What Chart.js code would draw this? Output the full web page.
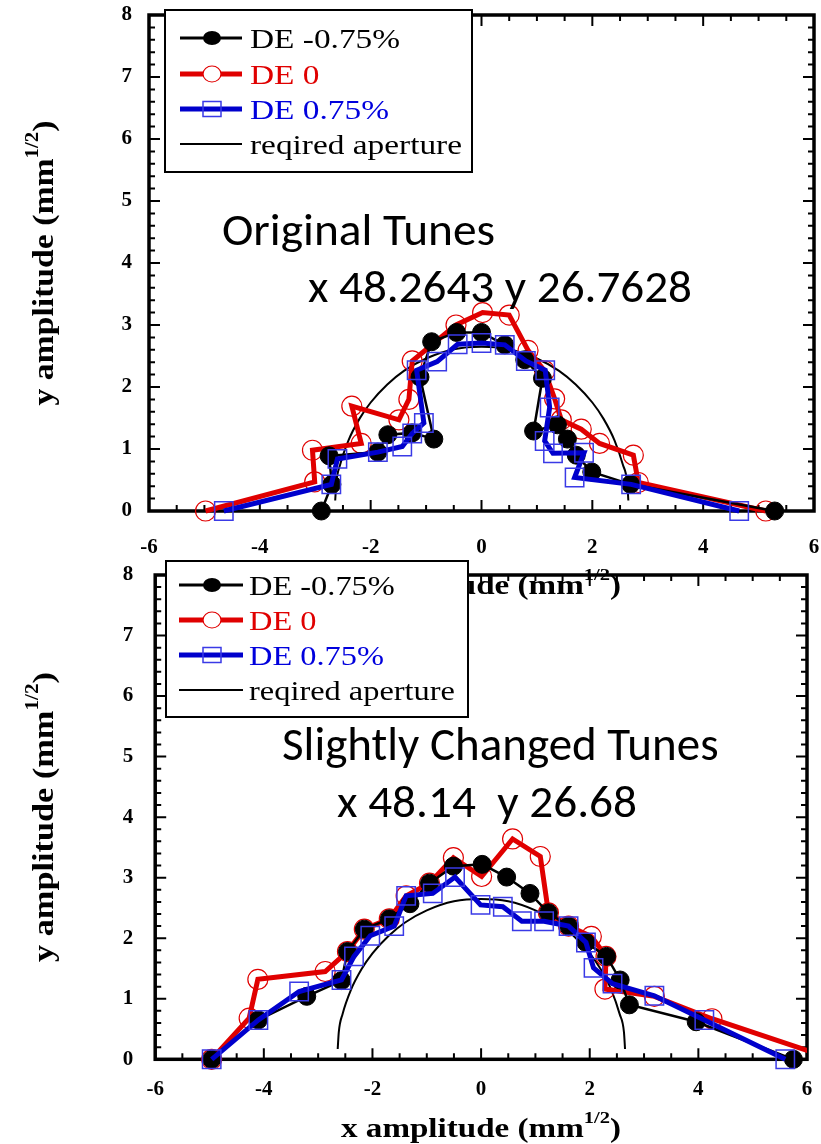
<!DOCTYPE html>
<html><head><meta charset="utf-8">
<script src="https://cdn.jsdelivr.net/npm/chart.js@4.4.0/dist/chart.umd.min.js"></script>
<style>
html,body{margin:0;padding:0;background:#fff;}
body{width:821px;height:1144px;position:relative;overflow:hidden;}
canvas{position:absolute;left:0;}
#c1{top:0}
#c2{top:540px}
</style></head><body>
<canvas id="c1" width="821" height="600"></canvas>
<canvas id="c2" width="821" height="604"></canvas>
<script>
// ---------- DATA ----------
const seriesLabels = ['DE -0.75%', 'DE 0', 'DE 0.75%', 'reqired aperture'];
const xTickValues = [-6, -4, -2, 0, 2, 4, 6];

// Top chart: Original Tunes
const top_neg_x = [-2.89, -2.70, -2.75, -1.87, -1.69, -1.25, -0.86, -1.11, -0.90, -0.45, 0.00, 0.42, 0.78, 1.10, 0.94, 1.37, 1.55, 1.71, 1.99, 2.69, 5.29];
const top_neg_y = [0.00, 0.43, 0.89, 0.95, 1.23, 1.26, 1.16, 2.16, 2.73, 2.88, 2.88, 2.68, 2.44, 2.14, 1.29, 1.39, 1.16, 0.90, 0.63, 0.43, 0.00];
const top_zero_x = [-4.98, -3.01, -3.05, -2.17, -2.34, -1.49, -1.31, -1.25, -0.46, 0.02, 0.50, 0.84, 1.14, 1.32, 1.44, 1.80, 2.13, 2.74, 2.83, 5.13];
const top_zero_y = [0.00, 0.47, 0.98, 1.09, 1.69, 1.47, 1.80, 2.42, 3.00, 3.20, 3.16, 2.59, 2.26, 1.81, 1.47, 1.32, 1.09, 0.90, 0.46, 0.00];
const top_pos_x = [-4.65, -2.71, -2.60, -1.87, -1.43, -1.25, -1.04, -1.17, -0.80, -0.43, 0.00, 0.42, 0.80, 1.15, 1.23, 1.14, 1.29, 1.85, 1.68, 2.70, 4.65];
const top_pos_y = [0.00, 0.43, 0.84, 0.95, 1.04, 1.25, 1.42, 2.27, 2.41, 2.69, 2.71, 2.68, 2.42, 2.27, 1.67, 1.13, 0.93, 0.94, 0.54, 0.43, 0.00];

// Bottom chart: Slightly Changed Tunes
const bot_neg_x = [-4.96, -4.10, -3.21, -2.57, -2.46, -2.15, -1.69, -1.31, -0.95, -0.51, 0.02, 0.47, 0.90, 1.24, 1.61, 1.93, 2.31, 2.56, 2.73, 3.96, 5.75];
const bot_neg_y = [0.00, 0.65, 1.04, 1.30, 1.78, 2.15, 2.32, 2.57, 2.91, 3.19, 3.22, 3.01, 2.74, 2.42, 2.20, 1.93, 1.70, 1.31, 0.90, 0.62, 0.00];
const bot_zero_x = [-4.96, -4.27, -4.11, -2.87, -2.46, -2.15, -1.69, -1.38, -0.95, -0.51, 0.01, 0.58, 1.09, 1.24, 1.61, 2.03, 2.30, 2.28, 3.19, 4.25, 6.50];
const bot_zero_y = [0.00, 0.68, 1.32, 1.45, 1.78, 2.15, 2.32, 2.70, 2.91, 3.33, 3.02, 3.64, 3.35, 2.42, 2.20, 2.03, 1.70, 1.16, 1.04, 0.67, 0.00];
const bot_pos_x = [-4.96, -4.10, -3.35, -2.57, -2.34, -2.04, -1.60, -1.38, -0.89, -0.48, -0.01, 0.40, 0.75, 1.16, 1.61, 1.93, 2.07, 2.42, 3.19, 4.11, 5.60];
const bot_pos_y = [0.00, 0.65, 1.12, 1.31, 1.70, 2.04, 2.20, 2.70, 2.74, 3.01, 2.55, 2.52, 2.28, 2.28, 2.20, 1.93, 1.51, 1.25, 1.05, 0.65, 0.00];

// required aperture curve
const aperture_x = [-2.64, -2.62, -2.55, -2.40, -2.20, -2.00, -1.70, -1.40, -1.00, -0.50, 0.00, 0.50, 1.00, 1.40, 1.70, 2.00, 2.20, 2.40, 2.55, 2.63, 2.65];
const aperture_y = [0.17, 0.45, 0.75, 1.14, 1.49, 1.75, 2.04, 2.26, 2.46, 2.61, 2.65, 2.61, 2.46, 2.26, 2.04, 1.75, 1.49, 1.14, 0.75, 0.45, 0.17];

// ---------- STYLE ----------
const RED = '#e00000', BLUE = '#0000cc', BLUE_MK = '#3a3ae6', BLACK = '#000';
const SERIF = '"Liberation Serif", "Times New Roman", serif';
const SANS = 'Carlito, "Open Sans", sans-serif';
const pts = (xs, ys) => xs.map((v, i) => ({x: v, y: ys[i]}));

function textFit(ctx, text, x, y, font, targetW, color) {
  ctx.save();
  ctx.font = font; ctx.fillStyle = color; ctx.textBaseline = 'alphabetic'; ctx.textAlign = 'left';
  const w = ctx.measureText(text).width;
  const s = targetW ? targetW / w : 1;
  ctx.translate(x, y); ctx.scale(s, 1);
  ctx.fillText(text, 0, 0);
  ctx.restore();
}

function supTitle(ctx, main, cx, cy, size, targetW, rotate) {
  const parts = [{t: main + ' (mm', sup: false}, {t: '1/2', sup: true}, {t: ')', sup: false}];
  ctx.save();
  ctx.translate(cx, cy);
  if (rotate) ctx.rotate(-Math.PI / 2);
  ctx.fillStyle = '#000'; ctx.textBaseline = 'alphabetic'; ctx.textAlign = 'left';
  let w = 0;
  parts.forEach(p => { ctx.font = 'bold ' + (p.sup ? size * 0.62 : size) + 'px ' + SERIF; p.w = ctx.measureText(p.t).width; w += p.w; });
  ctx.scale(targetW / w, 1);
  let x = -w / 2;
  parts.forEach(p => { ctx.font = 'bold ' + (p.sup ? size * 0.62 : size) + 'px ' + SERIF; ctx.fillText(p.t, x, p.sup ? -size * 0.5 : 0); x += p.w; });
  ctx.restore();
}

function drawLegend(ctx, L) {
  ctx.save();
  ctx.fillStyle = '#fff';
  ctx.fillRect(L.x0, L.y0, L.x1 - L.x0, L.y1 - L.y0);
  ctx.strokeStyle = '#000'; ctx.lineWidth = 2;
  ctx.strokeRect(L.x0, L.y0, L.x1 - L.x0, L.y1 - L.y0);
  const font = '28px ' + SERIF;
  ctx.font = font;
  const s = L.refW / ctx.measureText(seriesLabels[3]).width;
  const entries = [
    {label: seriesLabels[0], c: BLACK, tc: BLACK, lw: 3, mk: 'dot'},
    {label: seriesLabels[1], c: RED, tc: RED, lw: 5, mk: 'circle'},
    {label: seriesLabels[2], c: BLUE, tc: '#0000dd', lw: 5, mk: 'square'},
    {label: seriesLabels[3], c: BLACK, tc: BLACK, lw: 2, mk: null}
  ];
  entries.forEach((e, i) => {
    const y = L.rows[i];
    ctx.strokeStyle = e.c; ctx.lineWidth = e.lw;
    ctx.beginPath(); ctx.moveTo(L.lx0, y); ctx.lineTo(L.lx1, y); ctx.stroke();
    if (e.mk === 'dot') { ctx.fillStyle = '#000'; ctx.beginPath(); ctx.ellipse(L.mx, y, 9, 7, 0, 0, Math.PI * 2); ctx.fill(); }
    if (e.mk === 'circle') { ctx.fillStyle = '#fff'; ctx.strokeStyle = RED; ctx.lineWidth = 1.2; ctx.beginPath(); ctx.ellipse(L.mx, y, 9, 8, 0, 0, Math.PI * 2); ctx.fill(); ctx.stroke(); }
    if (e.mk === 'square') { ctx.strokeStyle = BLUE_MK; ctx.lineWidth = 1.5; ctx.strokeRect(L.mx - 9, y - 7.5, 18, 15); }
    ctx.save();
    ctx.font = font; ctx.fillStyle = e.tc; ctx.textBaseline = 'alphabetic';
    ctx.translate(L.tx, y + 9.5); ctx.scale(s, 1); ctx.fillText(e.label, 0, 0);
    ctx.restore();
  });
  ctx.restore();
}

function framePlugin() {
  return {
    id: 'frame',
    beforeDatasetsDraw(chart) {
      const {ctx, chartArea: a, scales: {x, y}} = chart;
      ctx.save();
      ctx.strokeStyle = '#000'; ctx.lineWidth = 2;
      ctx.beginPath();
      for (let k = -12; k <= 12; k++) {
        const px = x.getPixelForValue(k * 0.5);
        const L = (k % 4 === 0) ? 11 : 6;
        ctx.moveTo(px, a.bottom); ctx.lineTo(px, a.bottom - L);
        ctx.moveTo(px, a.top); ctx.lineTo(px, a.top + L);
      }
      for (let k = 0; k <= 40; k++) {
        const py = y.getPixelForValue(k * 0.2);
        const L = (k % 5 === 0) ? 11 : 6;
        ctx.moveTo(a.left, py); ctx.lineTo(a.left + L, py);
        ctx.moveTo(a.right, py); ctx.lineTo(a.right - L, py);
      }
      ctx.stroke();
      ctx.lineWidth = 3.5;
      ctx.strokeRect(a.left, a.top, a.right - a.left, a.bottom - a.top);
      ctx.restore();
    }
  };
}

function overlayPlugin(cfg) {
  return {
    id: 'overlay',
    afterDraw(chart) {
      const ctx = chart.ctx;
      cfg.texts.forEach(t => textFit(ctx, t.s, t.x, t.y, t.size + 'px ' + SANS, t.w, '#000'));
      supTitle(ctx, 'y amplitude', cfg.yTitle.x, cfg.yTitle.y, 30, cfg.yTitle.w, true);
      supTitle(ctx, 'x amplitude', cfg.xTitle.x, cfg.xTitle.y, 28, cfg.xTitle.w, false);
      drawLegend(ctx, cfg.legend);
    }
  };
}

function makeChart(id, d, cfg) {
  const tickFont = {family: SERIF, size: 21, weight: 'bold'};
  const chart = new Chart(document.getElementById(id), {
    type: 'scatter',
    data: {datasets: [
      {label: seriesLabels[3], data: pts(aperture_x, aperture_y), showLine: true, borderColor: BLACK, borderWidth: 2,
        pointRadius: 0, tension: 0.4, cubicInterpolationMode: 'monotone', order: 3, clip: false},
      {label: seriesLabels[1], data: pts(d.zx, d.zy), showLine: true, borderColor: RED, borderWidth: 5,
        pointStyle: 'circle', pointRadius: 10, pointBackgroundColor: 'rgba(0,0,0,0)', pointBorderColor: RED, pointBorderWidth: 1.2,
        order: 2, clip: {left: 30, top: 30, right: 0, bottom: 30}},
      {label: seriesLabels[0], data: pts(d.nx, d.ny), showLine: true, borderColor: BLACK, borderWidth: 2.5,
        pointStyle: 'circle', pointRadius: 9, pointBackgroundColor: BLACK, pointBorderColor: BLACK, pointBorderWidth: 1,
        order: 1, clip: false},
      {label: seriesLabels[2], data: pts(d.px, d.py), showLine: true, borderColor: BLUE, borderWidth: 5,
        pointStyle: 'rect', pointRadius: 13, pointBackgroundColor: 'rgba(0,0,0,0)', pointBorderColor: BLUE_MK, pointBorderWidth: 1.5,
        order: 0, clip: false}
    ]},
    options: {
      responsive: false, animation: false, events: [],
      layout: {autoPadding: false, padding: {left: 0, right: 10, top: 20, bottom: 20}},
      scales: {
        x: {type: 'linear', position: 'bottom', min: -6, max: 6,
          afterBuildTicks: s => { s.ticks = xTickValues.map(v => ({value: v})); },
          ticks: {font: tickFont, color: '#000', padding: cfg.xPad, maxRotation: 0, autoSkip: false},
          grid: {display: false, drawTicks: false}, border: {display: false},
          afterFit: s => { s.height = 50; s.paddingLeft = 0; s.paddingRight = 0; }},
        y: {type: 'linear', min: 0, max: 8,
          ticks: {stepSize: 1, font: tickFont, color: '#000', padding: cfg.yPad},
          grid: {display: false, drawTicks: false}, border: {display: false},
          afterFit: s => { s.width = 60; s.paddingTop = 0; s.paddingBottom = 0; }}
      },
      plugins: {legend: {display: false}, tooltip: {enabled: false}}
    },
    plugins: [framePlugin(), overlayPlugin(cfg)]
  });
  // place the plot area where the reference has it
  const want = cfg.area;
  for (let i = 0; i < 6; i++) {
    const a = chart.chartArea, p = chart.options.layout.padding;
    p.left += want.left - a.left; p.top += want.top - a.top;
    p.right += a.right - want.right; p.bottom += a.bottom - want.bottom;
    chart.update();
  }
  return chart;
}

makeChart('c1',
  {nx: top_neg_x, ny: top_neg_y, zx: top_zero_x, zy: top_zero_y, px: top_pos_x, py: top_pos_y},
  {area: {left: 149, top: 15, right: 814, bottom: 511}, xPad: 24, yPad: 17,
   texts: [{s: 'Original Tunes', x: 222, y: 245, w: 273, size: 45}, {s: 'x 48.2643 y 26.7628', x: 308, y: 302, w: 384, size: 46}],
   yTitle: {x: 53, y: 263, w: 285}, xTitle: {x: 481, y: 594, w: 280},
   legend: {x0: 165, y0: 10, x1: 472, y1: 172, rows: [38, 74, 109, 144], lx0: 180, lx1: 242, mx: 212, tx: 250, refW: 212}});

makeChart('c2',
  {nx: bot_neg_x, ny: bot_neg_y, zx: bot_zero_x, zy: bot_zero_y, px: bot_pos_x, py: bot_pos_y},
  {area: {left: 155.2, top: 35, right: 807, bottom: 519.3}, xPad: 18, yPad: 22,
   texts: [{s: 'Slightly Changed Tunes', x: 282, y: 220, w: 0, size: 47}, {s: 'x 48.14  y 26.68', x: 337, y: 277, w: 300, size: 46}],
   yTitle: {x: 53, y: 277, w: 290}, xTitle: {x: 481, y: 597, w: 280},
   legend: {x0: 166, y0: 21, x1: 468, y1: 177, rows: [45, 80, 115, 150], lx0: 179, lx1: 243, mx: 212, tx: 249, refW: 206}});
</script>
</body></html>
